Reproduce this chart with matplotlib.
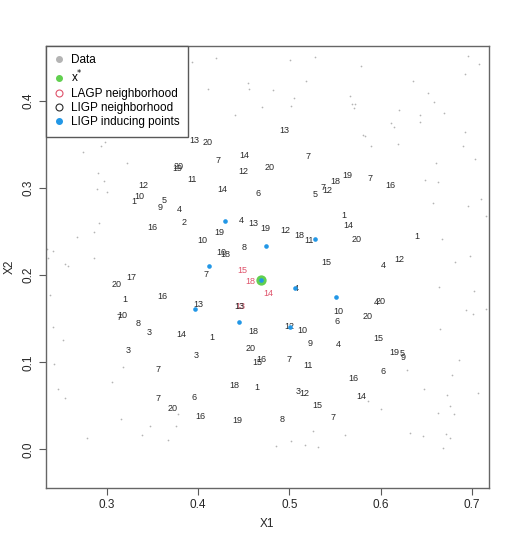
import matplotlib
matplotlib.use("Agg")
import matplotlib.pyplot as plt
from matplotlib.lines import Line2D

plt.rcParams["font.family"] = ["Liberation Sans", "DejaVu Sans"]

# grey design points outside the neighbourhood
data_x = [0.3939, 0.4198, 0.4107, 0.4406, 0.4545, 0.4556, 0.4705, 0.4825, 0.5004, 0.5048,
          0.5022, 0.5179, 0.5284, 0.5667, 0.5683, 0.5719, 0.5705, 0.5788, 0.6113, 0.6146,
          0.6200, 0.6357, 0.6427, 0.6430, 0.6518, 0.6586, 0.6693, 0.6919, 0.6958, 0.7072,
          0.5810, 0.5825, 0.5891, 0.6189,
          0.6919, 0.6900, 0.6608, 0.7035, 0.6488, 0.6627, 0.6575, 0.6952, 0.7094, 0.7155,
          0.6674, 0.6816, 0.6977, 0.6635, 0.7021, 0.6930, 0.7010, 0.7149, 0.6652, 0.6284,
          0.6857, 0.6783, 0.6477, 0.6725, 0.7068, 0.6758, 0.6805, 0.6624, 0.6321, 0.6466,
          0.6711, 0.6762, 0.6685,
          0.2984, 0.2940, 0.2740, 0.3217, 0.2910, 0.2969, 0.2893, 0.2998, 0.2918, 0.2856,
          0.2677, 0.2415, 0.2349, 0.2357, 0.2863, 0.2546, 0.2582, 0.2385, 0.2407, 0.2527,
          0.3184, 0.2426, 0.3063, 0.2462, 0.2543, 0.3159, 0.2790, 0.3385,
          0.3473, 0.3673, 0.3757, 0.3782, 0.4851, 0.5022, 0.5175, 0.5317, 0.5256, 0.5606,
          0.5864, 0.6003]
data_y = [0.4448, 0.4498, 0.4142, 0.3836, 0.4200, 0.4134, 0.3931, 0.4123, 0.4467, 0.4034,
          0.3939, 0.4226, 0.4505, 0.4057, 0.3970, 0.3962, 0.3913, 0.4402, 0.3741, 0.3695,
          0.3901, 0.4226, 0.3836, 0.3756, 0.4088, 0.3982, 0.3862, 0.4306, 0.4516, 0.4425,
          0.3606, 0.3592, 0.3477, 0.3500,
          0.3644, 0.3484, 0.3293, 0.3331, 0.3090, 0.3075, 0.2823, 0.2795, 0.2872, 0.2677,
          0.2417, 0.2153, 0.2215, 0.1866, 0.1816, 0.1606, 0.1556, 0.1613, 0.1377, 0.0910,
          0.1025, 0.0853, 0.0695, 0.0623, 0.0646, 0.0493, 0.0402, 0.0417, 0.0184, 0.0153,
          0.0172, 0.0133, 0.0011,
          0.3523, 0.3488, 0.3408, 0.3289, 0.3170, 0.3082, 0.2990, 0.2952, 0.2600, 0.2497,
          0.2436, 0.2279, 0.2298, 0.2192, 0.2198, 0.2126, 0.2103, 0.1767, 0.1400, 0.1254,
          0.0941, 0.0975, 0.0776, 0.0688, 0.0585, 0.0344, 0.0126, 0.0164,
          0.0271, 0.0107, 0.0264, 0.0405, 0.0038, 0.0095, 0.0049, 0.0030, 0.0210, 0.0164,
          0.0558, 0.0462]

# LIGP neighbourhood, drawn as their index labels
ligp_x = [0.396, 0.410, 0.422, 0.451, 0.379, 0.377, 0.450, 0.478, 0.393, 0.340,
          0.427, 0.466, 0.336, 0.330, 0.363, 0.359, 0.380, 0.350, 0.385, 0.447,
          0.460, 0.474, 0.495, 0.423, 0.405, 0.450, 0.426, 0.430,
          0.494, 0.520, 0.563, 0.588, 0.550, 0.537, 0.542, 0.611, 0.528, 0.560,
          0.565, 0.511, 0.521, 0.574, 0.639, 0.540, 0.603, 0.620,
          0.409, 0.311, 0.327, 0.320, 0.361, 0.400, 0.445, 0.317, 0.313, 0.334,
          0.347, 0.382, 0.415, 0.460, 0.457, 0.469, 0.465, 0.324, 0.398, 0.356,
          0.440, 0.464, 0.356, 0.396, 0.372, 0.403, 0.443, 0.492,
          0.508, 0.595, 0.600, 0.554, 0.552, 0.586, 0.500, 0.514, 0.523, 0.553,
          0.597, 0.615, 0.623, 0.624, 0.500, 0.520, 0.603, 0.570, 0.510, 0.516,
          0.579, 0.531, 0.548]
ligp_y = [0.355, 0.352, 0.332, 0.337, 0.325, 0.323, 0.319, 0.324, 0.310, 0.303,
          0.298, 0.294, 0.290, 0.285, 0.286, 0.278, 0.275, 0.255, 0.261, 0.263,
          0.259, 0.253, 0.251, 0.249, 0.240, 0.232, 0.226, 0.224,
          0.366, 0.336, 0.314, 0.311, 0.307, 0.301, 0.297, 0.303, 0.293, 0.269,
          0.257, 0.245, 0.240, 0.241, 0.244, 0.214, 0.211, 0.218,
          0.201, 0.189, 0.197, 0.172, 0.176, 0.166, 0.164, 0.154, 0.151, 0.145,
          0.134, 0.132, 0.129, 0.135, 0.116, 0.103, 0.100, 0.114, 0.108, 0.092,
          0.073, 0.071, 0.059, 0.060, 0.047, 0.038, 0.033, 0.034,
          0.185, 0.169, 0.170, 0.158, 0.147, 0.152, 0.141, 0.137, 0.122, 0.120,
          0.127, 0.111, 0.110, 0.106, 0.103, 0.096, 0.089, 0.081, 0.066, 0.064,
          0.061, 0.050, 0.037]
ligp_lab = ["13", "20", "7", "14", "20", "19", "12", "20", "11", "12",
            "14", "6", "10", "1", "5", "9", "4", "16", "2", "4",
            "13", "19", "12", "19", "10", "8", "10", "18",
            "13", "7", "19", "7", "18", "7", "12", "16", "5", "1",
            "14", "18", "11", "20", "1", "15", "4", "12",
            "7", "20", "17", "1", "16", "13", "13", "10", "7", "8",
            "3", "14", "1", "18", "20", "16", "15", "3", "3", "7",
            "18", "1", "7", "6", "20", "16", "19", "8",
            "4", "4", "20", "10", "6", "20", "12", "10", "9", "4",
            "15", "19", "5", "9", "7", "11", "6", "16", "3", "12",
            "14", "15", "7"]

# LAGP neighbourhood labels (red)
lagp_x = [0.448, 0.457, 0.477, 0.446]
lagp_y = [0.205, 0.193, 0.179, 0.1635]
lagp_lab = ["15", "18", "14", "13"]

# LIGP inducing points
ind_x = [0.430, 0.474, 0.528, 0.412, 0.397, 0.445, 0.506, 0.551, 0.501, 0.469]
ind_y = [0.262, 0.233, 0.242, 0.210, 0.161, 0.146, 0.185, 0.175, 0.141, 0.195]

# predictive location x*
xstar = (0.469, 0.195)

grey = "#b4b4b4"
red = "#DF536B"
green = "#61D04F"
blue = "#2297E6"
ink = "#2a2a2a"

fig = plt.figure(figsize=(5.13, 5.46), dpi=100)
ax = fig.add_axes([0.0897, 0.106, 0.8633, 0.8094])

ax.scatter(data_x, data_y, s=1.5, color=grey, linewidths=0)
for x, y, t in zip(lagp_x, lagp_y, lagp_lab):
    ax.text(x, y, t, color=red, fontsize=6.5, ha="center", va="center")
for x, y, t in zip(ligp_x, ligp_y, ligp_lab):
    ax.text(x, y, t, color=ink, fontsize=6.5, ha="center", va="center")
ax.scatter([xstar[0]], [xstar[1]], s=55, color=green, linewidths=0, zorder=3)
ax.scatter(ind_x, ind_y, s=11, color=blue, linewidths=0, zorder=4)

ax.set_xlim(0.2336, 0.7183)
ax.set_ylim(-0.0444, 0.4628)
ax.set_xticks([0.3, 0.4, 0.5, 0.6, 0.7])
ax.set_yticks([0.0, 0.1, 0.2, 0.3, 0.4])
ax.set_xticklabels(["0.3", "0.4", "0.5", "0.6", "0.7"])
ax.set_yticklabels(["0.0", "0.1", "0.2", "0.3", "0.4"], rotation=90, va="center")
ax.tick_params(length=5, width=0.8, color="0.35", labelsize=8.5, labelcolor="0.15", pad=3)
for s in ax.spines.values():
    s.set_color("0.4")
    s.set_linewidth(1.0)
ax.set_xlabel("X1", fontsize=8.5, color="0.15", labelpad=5)
ax.set_ylabel("X2", fontsize=8.5, color="0.15", labelpad=5)

handles = [
    Line2D([], [], ls="", marker="o", ms=4, mfc=grey, mec=grey),
    Line2D([], [], ls="", marker="o", ms=4, mfc=green, mec=green),
    Line2D([], [], ls="", marker="o", ms=5, mfc="none", mec=red, mew=0.8),
    Line2D([], [], ls="", marker="o", ms=5, mfc="none", mec=ink, mew=0.8),
    Line2D([], [], ls="", marker="o", ms=4, mfc=blue, mec=blue),
]
labels = ["Data", "x$^{*}$", "LAGP neighborhood", "LIGP neighborhood", "LIGP inducing points"]
leg = ax.legend(handles, labels, loc="upper left", bbox_to_anchor=(0, 1), borderaxespad=0,
                fontsize=8.5, frameon=True, fancybox=False, framealpha=1,
                handlelength=0.8, handletextpad=0.6, labelspacing=0.2, borderpad=0.7)
leg.get_frame().set_edgecolor("0.35")
leg.get_frame().set_linewidth(1.0)

fig.savefig("out.png", dpi=100)
